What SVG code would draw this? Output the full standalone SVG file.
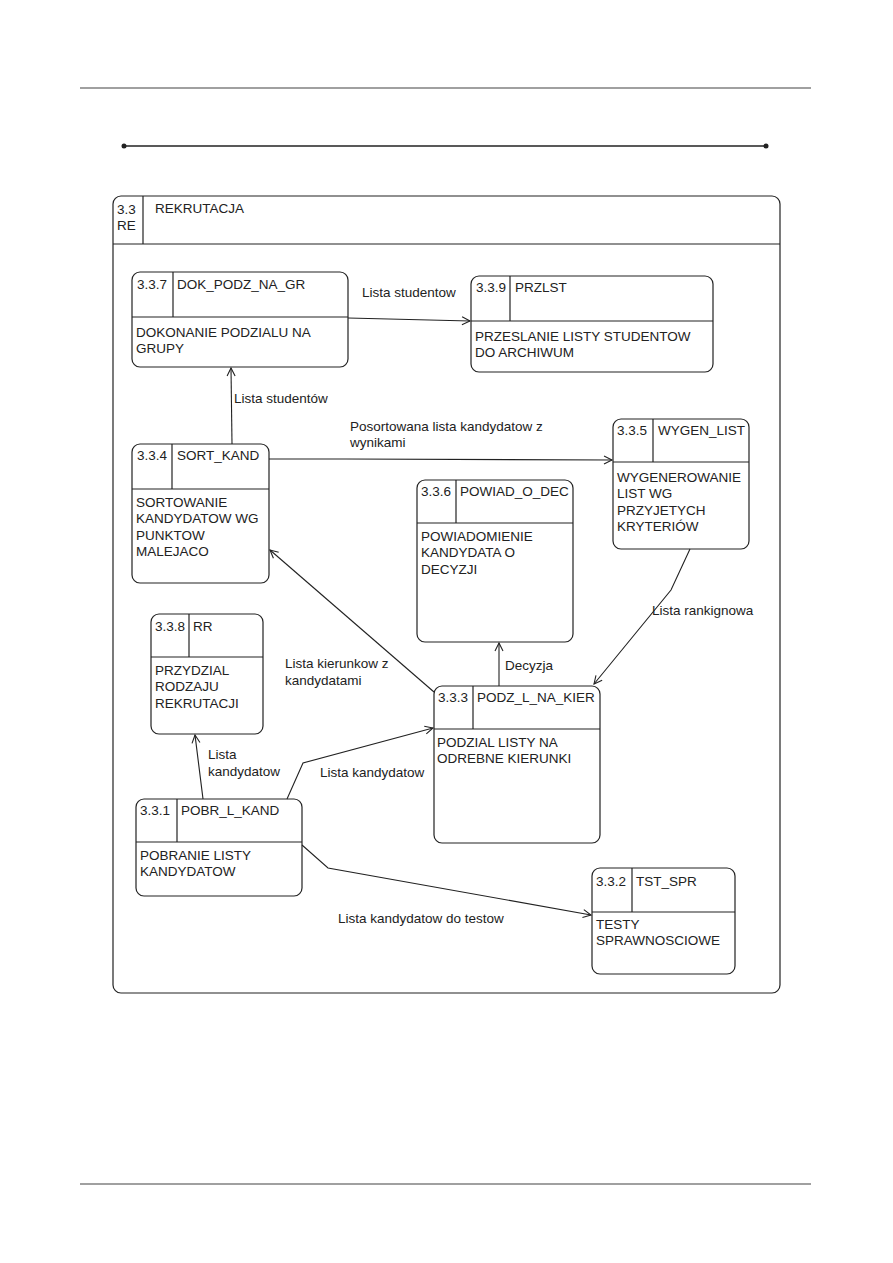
<svg xmlns="http://www.w3.org/2000/svg" width="893" height="1263" viewBox="0 0 893 1263">
<style>
  text { font-family: "Liberation Sans", Arial, sans-serif; font-size: 13.5px; fill: #222; }
  .box { fill: none; stroke: #222; stroke-width: 1.2; }
  .ln { stroke: #222; stroke-width: 1.2; fill: none; }
  .conn { stroke: #222; stroke-width: 1.1; fill: none; marker-end: url(#arr); }
  .rule { stroke: #a0a0a0; stroke-width: 2; }
</style>
<defs>
  <marker id="arr" markerUnits="userSpaceOnUse" markerWidth="12" markerHeight="12" refX="9" refY="5" orient="auto">
    <path d="M1,1 L9,5 L1,9" fill="none" stroke="#222" stroke-width="1.1"/>
  </marker>
</defs>
<rect width="893" height="1263" fill="#fff"/>
<line class="rule" x1="80" y1="88" x2="811" y2="88"/>
<line class="rule" x1="80" y1="1184" x2="811" y2="1184"/>
<g id="title-line">
  <line x1="124" y1="146" x2="766" y2="146" stroke="#222" stroke-width="1.3"/>
  <circle cx="124" cy="146" r="2.5" fill="#222"/>
  <circle cx="766" cy="146" r="2.5" fill="#222"/>
</g>
<g id="frame">
  <rect class="box" x="113" y="196" width="667" height="797" rx="8"/>
  <line class="ln" x1="113" y1="244" x2="780" y2="244"/>
  <line class="ln" x1="143" y1="196" x2="143" y2="244"/>
  <text x="117" y="214">3.3</text>
  <text x="117" y="230">RE</text>
  <text x="155" y="213">REKRUTACJA</text>
</g>
<g id="connectors">
  <path class="conn" d="M348 318 L470 321"/>
  <path class="conn" d="M232 444 L231 368"/>
  <path class="conn" d="M269 459 L346 459 L612 460"/>
  <path class="conn" d="M690 549 L671 590 L594 684"/>
  <path class="conn" d="M499 686 L499 643"/>
  <path class="conn" d="M434 692 L270 550"/>
  <path class="conn" d="M203 799 L195 735"/>
  <path class="conn" d="M287 799 L303 763 L433 728"/>
  <path class="conn" d="M302 845 L328 868 L591 915"/>
  <text x="362" y="297">Lista studentow</text>
  <text x="234" y="403">Lista studentów</text>
  <text x="350" y="431">Posortowana lista kandydatow z</text>
  <text x="350" y="447">wynikami</text>
  <text x="652" y="615">Lista rankignowa</text>
  <text x="505" y="670">Decyzja</text>
  <text x="285" y="668">Lista kierunkow z</text>
  <text x="285" y="685">kandydatami</text>
  <text x="208" y="759">Lista</text>
  <text x="208" y="776">kandydatow</text>
  <text x="320" y="777">Lista kandydatow</text>
  <text x="338" y="923">Lista kandydatow do testow</text>
</g>
<g id="n337">
  <rect class="box" x="132" y="272" width="216" height="95" rx="8"/>
  <line class="ln" x1="173" y1="272" x2="173" y2="317"/>
  <line class="ln" x1="132" y1="317" x2="348" y2="317"/>
  <text x="137" y="289">3.3.7</text>
  <text x="177" y="289">DOK_PODZ_NA_GR</text>
  <text x="136" y="337">DOKONANIE PODZIALU NA</text>
  <text x="136" y="353">GRUPY</text>
</g>
<g id="n339">
  <rect class="box" x="471" y="276" width="242" height="96" rx="8"/>
  <line class="ln" x1="510" y1="276" x2="510" y2="321"/>
  <line class="ln" x1="471" y1="321" x2="713" y2="321"/>
  <text x="476" y="292">3.3.9</text>
  <text x="515" y="292">PRZLST</text>
  <text x="475" y="341">PRZESLANIE LISTY STUDENTOW</text>
  <text x="475" y="357">DO ARCHIWUM</text>
</g>
<g id="n334">
  <rect class="box" x="132" y="444" width="137" height="139" rx="8"/>
  <line class="ln" x1="172" y1="444" x2="172" y2="489"/>
  <line class="ln" x1="132" y1="489" x2="269" y2="489"/>
  <text x="137" y="460">3.3.4</text>
  <text x="177" y="460">SORT_KAND</text>
  <text x="136" y="507">SORTOWANIE</text>
  <text x="136" y="523">KANDYDATOW WG</text>
  <text x="136" y="540">PUNKTOW</text>
  <text x="136" y="556">MALEJACO</text>
</g>
<g id="n335">
  <rect class="box" x="613" y="419" width="136" height="130" rx="8"/>
  <line class="ln" x1="653" y1="419" x2="653" y2="462"/>
  <line class="ln" x1="613" y1="462" x2="749" y2="462"/>
  <text x="617" y="435">3.3.5</text>
  <text x="658" y="435">WYGEN_LIST</text>
  <text x="617" y="482">WYGENEROWANIE</text>
  <text x="617" y="498">LIST WG</text>
  <text x="617" y="515">PRZYJETYCH</text>
  <text x="617" y="531">KRYTERIÓW</text>
</g>
<g id="n336">
  <rect class="box" x="417" y="480" width="156" height="162" rx="8"/>
  <line class="ln" x1="456" y1="480" x2="456" y2="523"/>
  <line class="ln" x1="417" y1="523" x2="573" y2="523"/>
  <text x="421" y="496">3.3.6</text>
  <text x="460" y="496">POWIAD_O_DEC</text>
  <text x="421" y="541">POWIADOMIENIE</text>
  <text x="421" y="557">KANDYDATA O</text>
  <text x="421" y="574">DECYZJI</text>
</g>
<g id="n338">
  <rect class="box" x="151" y="614" width="112" height="120" rx="8"/>
  <line class="ln" x1="189" y1="614" x2="189" y2="657"/>
  <line class="ln" x1="151" y1="657" x2="263" y2="657"/>
  <text x="155" y="631">3.3.8</text>
  <text x="193" y="631">RR</text>
  <text x="155" y="675">PRZYDZIAL</text>
  <text x="155" y="691">RODZAJU</text>
  <text x="155" y="708">REKRUTACJI</text>
</g>
<g id="n333">
  <rect class="box" x="434" y="686" width="166" height="157" rx="8"/>
  <line class="ln" x1="473" y1="686" x2="473" y2="729"/>
  <line class="ln" x1="434" y1="729" x2="600" y2="729"/>
  <text x="438" y="702">3.3.3</text>
  <text x="477" y="702">PODZ_L_NA_KIER</text>
  <text x="437" y="747">PODZIAL LISTY NA</text>
  <text x="437" y="763">ODREBNE KIERUNKI</text>
</g>
<g id="n331">
  <rect class="box" x="136" y="799" width="166" height="97" rx="8"/>
  <line class="ln" x1="177" y1="799" x2="177" y2="842"/>
  <line class="ln" x1="136" y1="842" x2="302" y2="842"/>
  <text x="140" y="815">3.3.1</text>
  <text x="181" y="815">POBR_L_KAND</text>
  <text x="140" y="860">POBRANIE LISTY</text>
  <text x="140" y="876">KANDYDATOW</text>
</g>
<g id="n332">
  <rect class="box" x="592" y="868" width="143" height="106" rx="8"/>
  <line class="ln" x1="632" y1="868" x2="632" y2="912"/>
  <line class="ln" x1="592" y1="912" x2="735" y2="912"/>
  <text x="596" y="886">3.3.2</text>
  <text x="636" y="886">TST_SPR</text>
  <text x="596" y="929">TESTY</text>
  <text x="596" y="945">SPRAWNOSCIOWE</text>
</g>
</svg>
